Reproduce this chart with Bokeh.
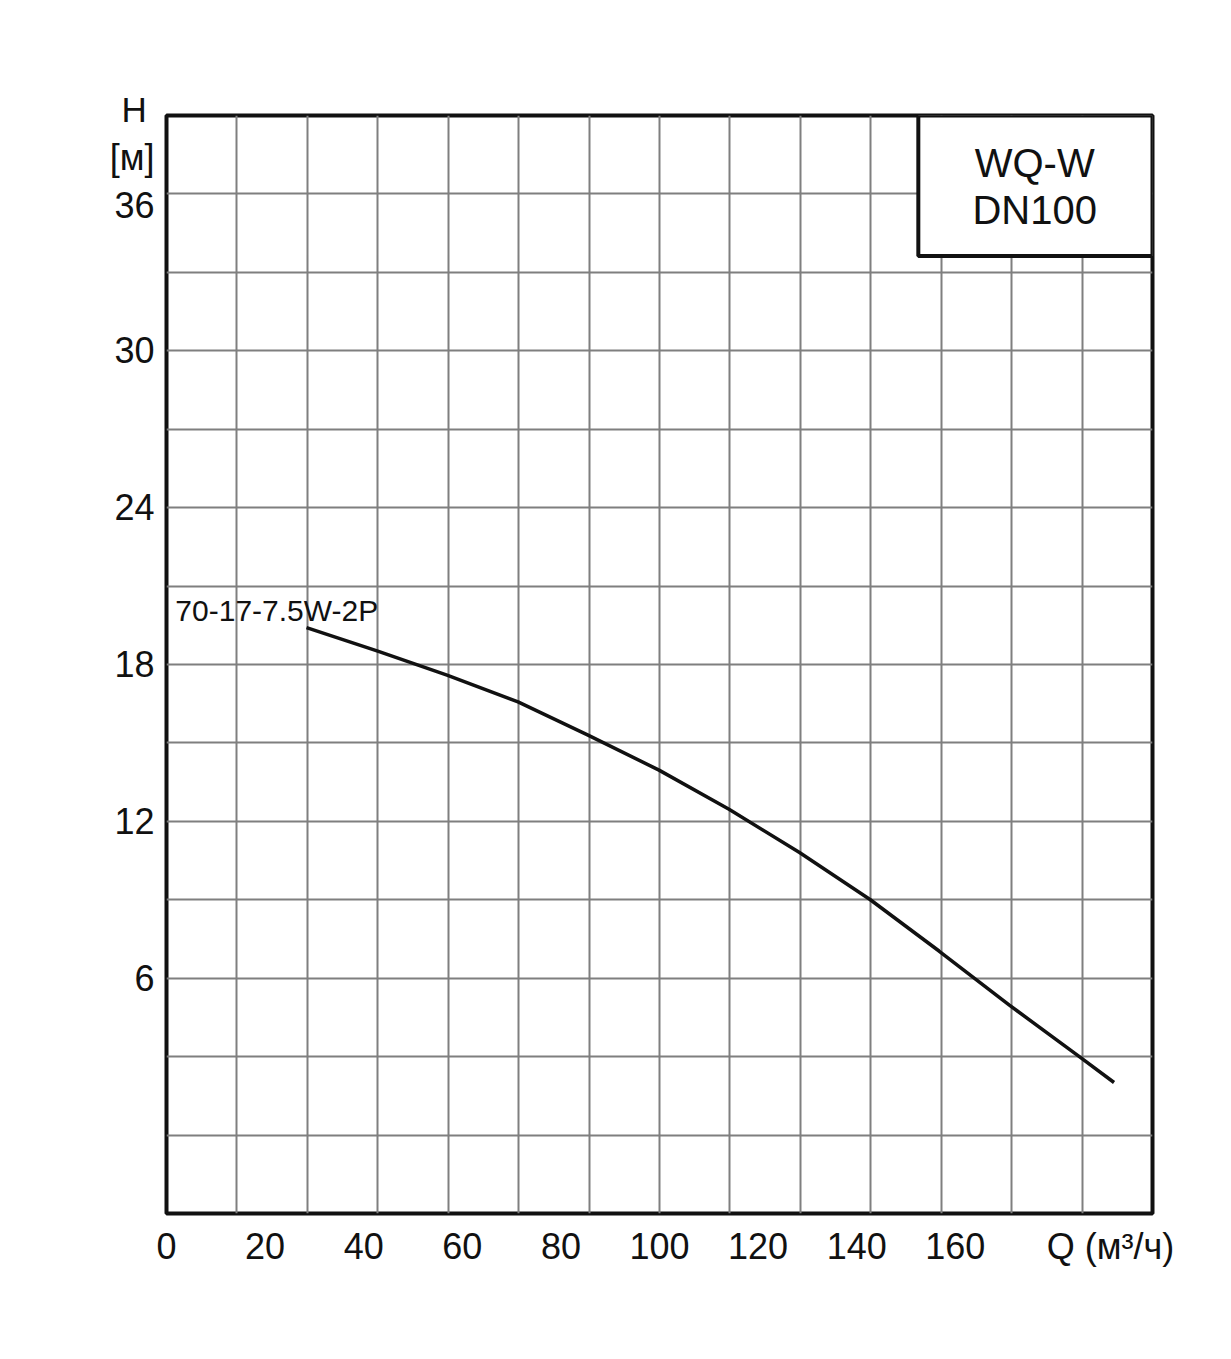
from bokeh.plotting import figure
from bokeh.models import Range1d, FixedTicker, Title
from bokeh.core.properties import value
from bokeh.embed import file_html
from bokeh.resources import INLINE

# ---- data ----
q_flow = [28.4, 42.7, 56.9, 71.3, 85.5, 99.9, 114.1, 128.4, 142.7, 156.7, 170.9, 185.3, 192.2]
h_head = [19.41, 18.52, 17.59, 16.57, 15.30, 13.96, 12.46, 10.81, 9.01, 7.04, 4.98, 2.98, 2.01]
curve_name = "70-17-7.5W-2P"

x_ticks = [0, 20, 40, 60, 80, 100, 120, 140, 160]
y_tick_labels = ["6", "12", "18", "24", "30", "36"]
# label anchor positions on the y scale (the top label sits slightly below its line in the original)
y_tick_pos = [6, 12, 18, 24, 30, 35.55]
x_unit_label = "Q (м³/ч)"
y_name = "H"
y_unit = "[м]"
box_lines = ["WQ-W", "DN100"]

X_MAX = 200.0
Y_MIN, Y_MAX = -3.0, 39.0
n_vgrid = 14
x_grid = [X_MAX * i / n_vgrid for i in range(n_vgrid + 1)]
y_grid = [Y_MIN + 3 * i for i in range(int((Y_MAX - Y_MIN) / 3) + 1)]

FONT = "Liberation Sans"
GRID_COLOR = "#7f7f7f"
INK = "#111111"

p = figure(width=1231, height=1359, output_backend="svg", toolbar_location=None,
           x_range=Range1d(0, X_MAX), y_range=Range1d(Y_MIN, Y_MAX),
           min_border_left=166, min_border_right=79, min_border_top=115,
           min_border_bottom=146, background_fill_color="white",
           border_fill_color="white")

p.outline_line_color = INK
p.outline_line_width = 4

# grid
p.xgrid.ticker = FixedTicker(ticks=x_grid)
p.ygrid.ticker = FixedTicker(ticks=y_grid)
for g in (p.xgrid, p.ygrid):
    g.grid_line_color = GRID_COLOR
    g.grid_line_width = 2
    g.grid_line_alpha = 1.0

# x axis: numeric ticks + unit label as an extra tick
q_label_pos = 191.5
p.xaxis.ticker = FixedTicker(ticks=x_ticks + [q_label_pos])
p.xaxis.major_label_overrides = {q_label_pos: x_unit_label}

# y axis: numeric ticks + unit label as an extra tick
unit_pos = 37.4
p.yaxis.ticker = FixedTicker(ticks=y_tick_pos + [unit_pos])
overrides = {pos: lab for pos, lab in zip(y_tick_pos, y_tick_labels)}
overrides[unit_pos] = y_unit
p.yaxis.major_label_overrides = overrides

for ax in (p.xaxis, p.yaxis):
    ax.axis_line_color = None
    ax.major_tick_line_color = None
    ax.minor_tick_line_color = None
    ax.major_tick_out = 0
    ax.major_tick_in = 0
    ax.major_label_text_font = FONT
    ax.major_label_text_font_size = "36px"
    ax.major_label_text_color = INK
p.xaxis.major_label_standoff = 12
p.yaxis.major_label_standoff = 12

# axis name "H" above the y axis
p.add_layout(Title(text=y_name, align="left", offset=-45, standoff=-27,
                   text_font=FONT, text_font_size="35px", text_font_style="normal",
                   text_color=INK), "above")

# curve
p.line(q_flow, h_head, line_color=INK, line_width=3.5)

# curve name
p.text(x=[1.8], y=[20.06], text=[curve_name], text_font=value(FONT),
       text_font_size="30px", text_align="left", text_baseline="middle",
       text_color=INK)

# model box in top-right corner
p.quad(left=[152.5], right=[X_MAX], bottom=[33.63], top=[Y_MAX],
       fill_color="white", line_color=INK, line_width=4)
p.text(x=[176.1, 176.1], y=[37.17, 35.39], text=box_lines, text_font=value(FONT),
       text_font_size="40px", text_align="center", text_baseline="middle",
       text_color=INK)

open("out.html", "w").write(file_html(p, INLINE))
